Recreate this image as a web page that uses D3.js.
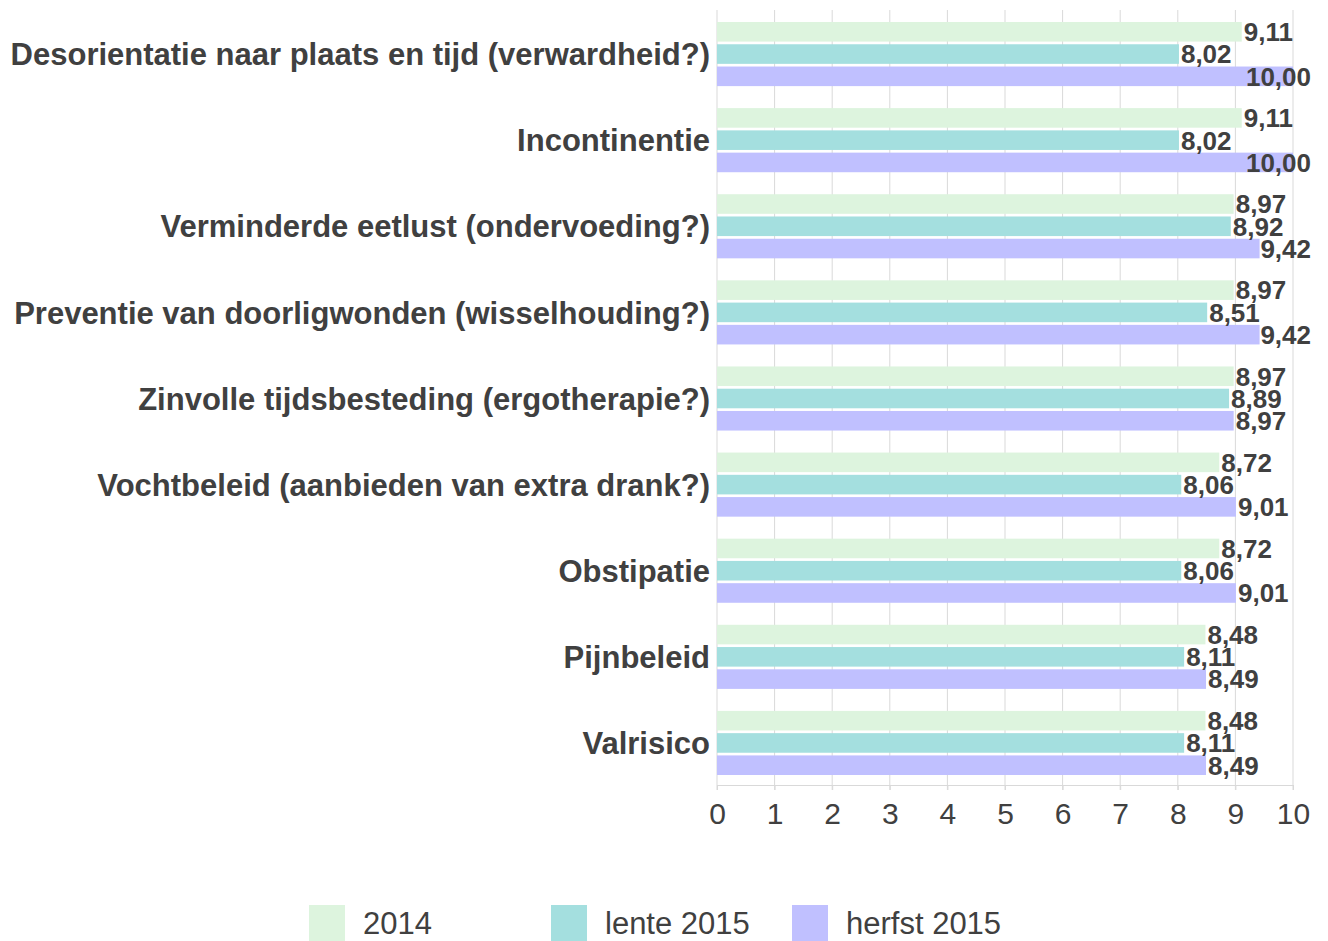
<!DOCTYPE html>
<html>
<head>
<meta charset="utf-8">
<script src="https://cdn.jsdelivr.net/npm/d3@7"></script>
<style>
  body { margin: 0; background: #fff; }
  text { font-family: "Liberation Sans", Arial, sans-serif; fill: #404040; }
</style>
</head>
<body>
<div id="chart"></div>
<script>
// categories top to bottom
var categories = [
    "Desorientatie naar plaats en tijd (verwardheid?)",
    "Incontinentie",
    "Verminderde eetlust (ondervoeding?)",
    "Preventie van doorligwonden (wisselhouding?)",
    "Zinvolle tijdsbesteding (ergotherapie?)",
    "Vochtbeleid (aanbieden van extra drank?)",
    "Obstipatie",
    "Pijnbeleid",
    "Valrisico"
];
var seriesNames = ["2014", "lente 2015", "herfst 2015"];
var seriesColors = ["#ddf4de", "#a4dfdf", "#c0c0ff"];
var values2014 = [9.11, 9.11, 8.97, 8.97, 8.97, 8.72, 8.72, 8.48, 8.48];
var valuesLente = [8.02, 8.02, 8.92, 8.51, 8.89, 8.06, 8.06, 8.11, 8.11];
var valuesHerfst = [10.00, 10.00, 9.42, 9.42, 8.97, 9.01, 9.01, 8.49, 8.49];
var xTicks = [0, 1, 2, 3, 4, 5, 6, 7, 8, 9, 10];

var allSeries = [values2014, valuesLente, valuesHerfst];

var width = 1328, height = 941;
var margin = { top: 10, left: 717, right: 35, bottom: 156 };
var plotW = width - margin.left - margin.right,
    plotH = height - margin.top - margin.bottom;
var labelLimit = plotW + 18; // labels may not run past this

var svg = d3.select("#chart").append("svg")
    .attr("width", width)
    .attr("height", height);

var g = svg.append("g")
    .attr("transform", "translate(" + margin.left + "," + margin.top + ")");

var x = d3.scaleLinear().domain([0, 10]).range([0, plotW]);
var y0 = d3.scaleBand().domain(categories).range([0, plotH]);
var y1 = d3.scaleBand().domain(seriesNames)
    .range([12, y0.bandwidth() - 10])
    .paddingInner(0.12);

// vertical grid lines
g.selectAll(".grid")
    .data(xTicks)
    .enter().append("line")
    .attr("x1", function (d) { return x(d); })
    .attr("x2", function (d) { return x(d); })
    .attr("y1", 0)
    .attr("y2", plotH + 5)
    .attr("stroke", "#d9d9d9")
    .attr("stroke-width", 1);

// bars
var rows = categories.map(function (c, i) {
    return { cat: c, vals: allSeries.map(function (s, k) { return { name: seriesNames[k], k: k, v: s[i] }; }) };
});

var grp = g.selectAll(".cat")
    .data(rows)
    .enter().append("g")
    .attr("transform", function (d) { return "translate(0," + y0(d.cat) + ")"; });

grp.selectAll("rect")
    .data(function (d) { return d.vals; })
    .enter().append("rect")
    .attr("x", 0)
    .attr("y", function (d) { return y1(d.name); })
    .attr("width", function (d) { return x(d.v); })
    .attr("height", y1.bandwidth())
    .attr("fill", function (d) { return seriesColors[d.k]; });

grp.selectAll(".lbl")
    .data(function (d) { return d.vals; })
    .enter().append("text")
    .attr("class", "lbl")
    .attr("x", function (d) { return x(d.v) + 2; })
    .attr("y", function (d) { return y1(d.name) + y1.bandwidth() / 2; })
    .attr("dy", "0.36em")
    .style("font-size", "26px")
    .style("font-weight", "bold")
    .text(function (d) { return d.v.toFixed(2).replace(".", ","); })
    .each(function (d) {
        // keep label inside the chart, like the original
        var w = this.getComputedTextLength();
        if (x(d.v) + 2 + w > labelLimit) d3.select(this).attr("x", labelLimit - w);
    });

// category labels
grp.append("text")
    .attr("x", -7)
    .attr("y", y1("lente 2015") + y1.bandwidth() / 2)
    .attr("dy", "0.36em")
    .attr("text-anchor", "end")
    .style("font-size", "31px")
    .style("font-weight", "bold")
    .text(function (d) { return d.cat; });

// x axis
var xAxis = g.append("g")
    .attr("transform", "translate(0," + plotH + ")")
    .call(d3.axisBottom(x).tickValues(xTicks).tickSize(5).tickPadding(13));
xAxis.selectAll("line, path").attr("stroke", "#d9d9d9");
xAxis.selectAll("text")
    .style("font-size", "30px")
    .style("font-family", "Liberation Sans, Arial, sans-serif")
    .attr("fill", "#404040");

// legend
var legendX = [309, 551, 792];
var legend = svg.selectAll(".legend")
    .data(seriesNames)
    .enter().append("g")
    .attr("transform", function (d, i) { return "translate(" + legendX[i] + ",905)"; });
legend.append("rect")
    .attr("width", 36)
    .attr("height", 36)
    .attr("fill", function (d, i) { return seriesColors[i]; });
legend.append("text")
    .attr("x", 54)
    .attr("y", 18)
    .attr("dy", "0.36em")
    .style("font-size", "31px")
    .text(function (d) { return d; });
</script>
</body>
</html>
